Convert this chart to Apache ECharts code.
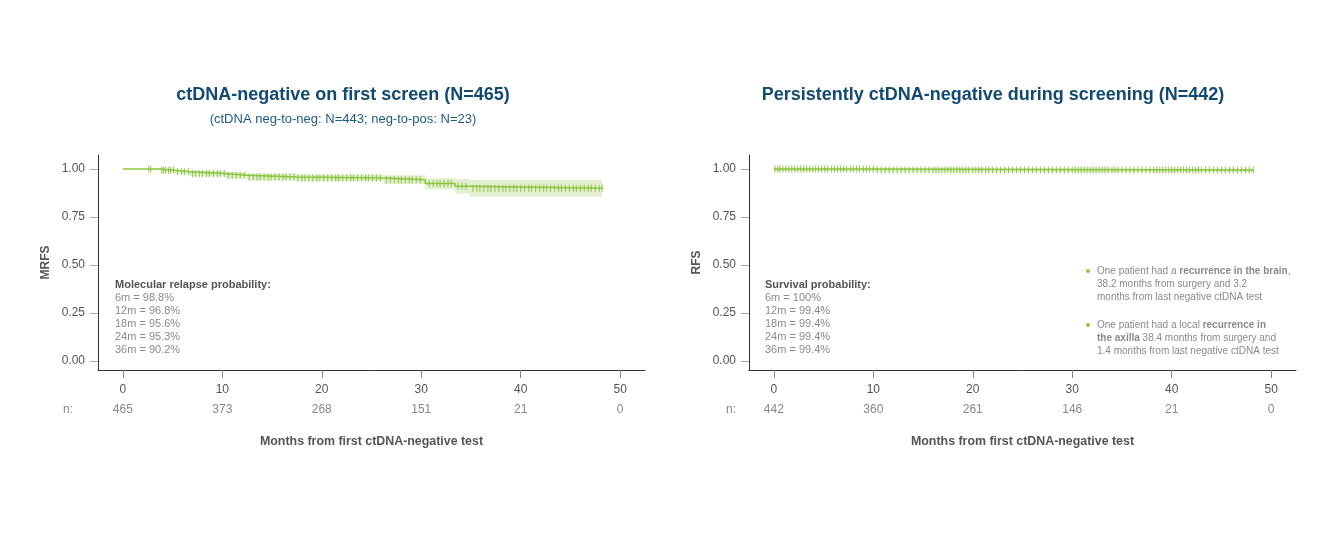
<!DOCTYPE html>
<html>
<head>
<meta charset="utf-8">
<script src="https://cdn.jsdelivr.net/npm/echarts@6/dist/echarts.min.js"></script>
<style>
  html, body { margin: 0; padding: 0; background: #fff; }
  #chart { width: 1335px; height: 547px; }
</style>
</head>
<body>
<div id="chart"></div>
<script>
// x ticks + numbers at risk
const xTicks = [0, 10, 20, 30, 40, 50];
const yTicks = [0, 0.25, 0.5, 0.75, 1];
const nAtRiskLeft = [465, 373, 268, 151, 21, 0];
const nAtRiskRight = [442, 360, 261, 146, 21, 0];

// left KM step curve (ctDNA-negative on first screen)
const kmTimesLeft = [0, 3.8, 5.2, 6.7, 10.3, 12.4, 17.5, 26.2, 30.4, 33.4, 34.9, 48.2];
const kmSurvLeft  = [1.0, 0.994, 0.986, 0.976, 0.967, 0.958, 0.953, 0.944, 0.924, 0.910, 0.900, 0.900];
const kmLowLeft   = [1.0, 0.985, 0.976, 0.962, 0.951, 0.940, 0.936, 0.922, 0.894, 0.872, 0.855, 0.855];
const kmHighLeft  = [1.0, 1.0, 0.996, 0.990, 0.983, 0.976, 0.972, 0.967, 0.952, 0.948, 0.943, 0.943];
const censorLeft = [2.6, 2.8, 3.9, 4.1, 4.3, 4.6, 4.8, 5.1, 5.5, 5.9, 6.2, 6.6, 7.0, 7.3, 7.7, 8.0, 8.4, 8.7, 9.1, 9.5,
  9.8, 10.2, 10.6, 11.0, 11.4, 11.8, 12.2, 12.7, 13.1, 13.5, 13.8, 14.2, 14.6, 14.9, 15.3, 15.7, 16.1, 16.4, 16.8,
  17.2, 17.6, 18.0, 18.3, 18.7, 19.1, 19.5, 19.8, 20.2, 20.6, 21.0, 21.4, 21.7, 22.1, 22.5, 22.9, 23.2, 23.6, 24.0,
  24.4, 24.7, 25.1, 25.5, 25.9, 26.5, 26.9, 27.3, 27.7, 28.0, 28.4, 28.8, 29.1, 29.5, 29.9, 30.8, 31.2, 31.6, 31.9,
  32.3, 32.7, 33.0, 33.7, 34.1, 34.5, 35.2, 35.6, 35.9, 36.3, 36.7, 37.0, 37.4, 37.8, 38.2, 38.5, 38.9, 39.3, 39.6,
  40.0, 40.4, 40.8, 41.1, 41.5, 41.9, 42.3, 42.6, 43.0, 43.4, 43.8, 44.1, 44.5, 44.9, 45.3, 45.6, 46.0, 46.4, 46.8,
  47.1, 47.5, 47.9, 48.2];

// right KM curve (persistently ctDNA-negative)
const kmTimesRight = [0, 10.2, 48.3];
const kmSurvRight  = [1.0, 0.995, 0.995];
const kmLowRight   = [0.99, 0.985, 0.985];
const kmHighRight  = [1.0, 1.0, 1.0];
const censorRight = [0.1, 0.4, 0.6, 0.9, 1.2, 1.5, 1.8, 2.1, 2.4, 2.7, 3.0, 3.3, 3.6, 3.9, 4.2, 4.5, 4.8, 5.1, 5.4,
  5.8, 6.1, 6.4, 6.7, 7.0, 7.3, 7.7, 8.0, 8.3, 8.6, 9.0, 9.3, 9.6, 10.0, 10.4, 10.8, 11.2, 11.6, 12.0, 12.4, 12.8,
  13.2, 13.6, 14.0, 14.4, 14.8, 15.2, 15.6, 16.0, 16.3, 16.6, 16.9, 17.2, 17.5, 17.8, 18.1, 18.4, 18.7, 19.0, 19.3,
  19.6, 20.0, 20.3, 20.6, 20.9, 21.3, 21.6, 22.0, 22.4, 22.8, 23.2, 23.6, 24.0, 24.4, 24.8, 25.2, 25.6, 26.0, 26.4,
  26.8, 27.2, 27.6, 28.0, 28.4, 28.8, 29.2, 29.6, 30.0, 30.3, 30.6, 30.9, 31.2, 31.5, 31.8, 32.1, 32.4, 32.7, 33.0,
  33.3, 33.6, 34.0, 34.3, 34.6, 35.0, 35.4, 35.8, 36.2, 36.6, 37.0, 37.4, 37.8, 38.2, 38.5, 38.8, 39.1, 39.4, 39.7,
  40.0, 40.3, 40.6, 40.9, 41.2, 41.5, 41.8, 42.1, 42.4, 42.7, 43.0, 43.4, 43.8, 44.2, 44.6, 45.0, 45.4, 45.8, 46.2,
  46.6, 47.0, 47.4, 47.8, 48.2];

const probLeft = ['6m = 98.8%', '12m = 96.8%', '18m = 95.6%', '24m = 95.3%', '36m = 90.2%'];
const probRight = ['6m = 100%', '12m = 99.4%', '18m = 99.4%', '24m = 99.4%', '36m = 99.4%'];

const FONT = "'Liberation Sans', Arial, sans-serif";
const GREEN = '#8cc63f';
const BAND = '#e3f0d0';
const BLUE = '#124a73';

function survAt(times, surv, t) {
  let s = surv[0];
  for (let i = 0; i < times.length; i++) if (times[i] <= t) s = surv[i];
  return s;
}

function kmSeries(idx, times, surv, low, high, censor) {
  const band = [];
  for (let i = 0; i < times.length - 1; i++) band.push([times[i], times[i + 1], low[i], high[i]]);
  return [
    {
      type: 'custom', xAxisIndex: idx * 2, yAxisIndex: idx, data: band, silent: true, z: 1,
      encode: { x: [0, 1], y: [2, 3] },
      renderItem: function (params, api) {
        const p0 = api.coord([api.value(0), api.value(3)]);
        const p1 = api.coord([api.value(1), api.value(2)]);
        return { type: 'rect', shape: { x: p0[0], y: p0[1], width: p1[0] - p0[0], height: p1[1] - p0[1] }, style: { fill: BAND } };
      }
    },
    {
      type: 'line', xAxisIndex: idx * 2, yAxisIndex: idx, step: 'end', showSymbol: false, z: 2,
      data: times.map((t, i) => [t, surv[i]]),
      lineStyle: { color: GREEN, width: 1.5 }
    },
    {
      type: 'scatter', xAxisIndex: idx * 2, yAxisIndex: idx, symbol: 'rect', symbolSize: [1.2, 7], z: 3,
      data: censor.map(t => [t, survAt(times, surv, t)]),
      itemStyle: { color: '#86c13a' }
    }
  ];
}

function xAxes(idx, nAtRisk) {
  return [
    {
      gridIndex: idx, type: 'value', min: -2.5, max: 52.5, position: 'bottom',
      axisLine: { onZero: false, lineStyle: { color: '#333', width: 1 } },
      axisTick: { customValues: xTicks, length: 8, lineStyle: { color: '#888' } },
      axisLabel: { customValues: xTicks, margin: 14, color: '#555', fontSize: 12, fontFamily: FONT },
      splitLine: { show: false }
    },
    {
      gridIndex: idx, type: 'value', min: -2.5, max: 52.5, position: 'bottom',
      axisLine: { show: false, onZero: false }, axisTick: { show: false }, splitLine: { show: false },
      axisLabel: {
        customValues: xTicks, margin: 34, color: '#888', fontSize: 12, fontFamily: FONT,
        formatter: v => String(nAtRisk[xTicks.indexOf(v)])
      },
      name: 'Months from first ctDNA-negative test', nameLocation: 'middle', nameGap: 66,
      nameTextStyle: { color: '#555', fontSize: 12.4, fontWeight: 'bold', fontFamily: FONT }
    }
  ];
}

function yAxis(idx, name) {
  return {
    gridIndex: idx, type: 'value', min: -0.047, max: 1.073,
    axisLine: { show: true, onZero: false, lineStyle: { color: '#333', width: 1 } },
    axisTick: { show: true, customValues: yTicks, length: 8, lineStyle: { color: '#aaa' } },
    axisLabel: { customValues: yTicks, margin: 13, color: '#555', fontSize: 12, fontFamily: FONT, formatter: v => v.toFixed(2) },
    splitLine: { show: false },
    name: name, nameLocation: 'middle', nameGap: 46,
    nameTextStyle: { color: '#555', fontSize: 12, fontWeight: 'bold', fontFamily: FONT }
  };
}

function txt(x, y, text, opts) {
  return {
    type: 'text', x: x, y: y, silent: true,
    style: Object.assign({ text: text, fontFamily: FONT, fontSize: 11, fill: '#8a8a8a', textVerticalAlign: 'middle', verticalAlign: 'middle' }, opts || {})
  };
}

function probBlock(x, header, lines) {
  const els = [txt(x, 285, header, { fill: '#555', fontWeight: 'bold' })];
  lines.forEach((l, i) => els.push(txt(x, 298 + i * 13, l)));
  return els;
}

const rich = {
  n: { fontFamily: FONT, fontSize: 10, color: '#8a8a8a' },
  b: { fontFamily: FONT, fontSize: 10, color: '#555', fontWeight: 'bold' }
};

const graphics = [
  txt(343, 95, 'ctDNA-negative on first screen (N=465)', { fontSize: 18, fontWeight: 'bold', fill: BLUE, textAlign: 'center', align: 'center' }),
  txt(343, 119, '(ctDNA neg-to-neg: N=443; neg-to-pos: N=23)', { fontSize: 13, fill: '#1f5a85', textAlign: 'center', align: 'center' }),
  txt(993, 95, 'Persistently ctDNA-negative during screening (N=442)', { fontSize: 18, fontWeight: 'bold', fill: BLUE, textAlign: 'center', align: 'center' }),
  txt(68, 410, 'n:', { fontSize: 12, fill: '#888', textAlign: 'center', align: 'center' }),
  txt(731, 410, 'n:', { fontSize: 12, fill: '#888', textAlign: 'center', align: 'center' }),
  { type: 'circle', shape: { cx: 1088, cy: 271, r: 2 }, style: { fill: GREEN }, silent: true },
  { type: 'circle', shape: { cx: 1088, cy: 325, r: 2 }, style: { fill: GREEN }, silent: true },
  txt(1097, 271, '{n|One patient had a }{b|recurrence in the brain}{n|,}', { rich: rich, fontSize: 10 }),
  txt(1097, 284, '38.2 months from surgery and 3.2', { fontSize: 10 }),
  txt(1097, 297, 'months from last negative ctDNA test', { fontSize: 10 }),
  txt(1097, 325, '{n|One patient had a local }{b|recurrence in}', { rich: rich, fontSize: 10 }),
  txt(1097, 338, '{b|the axilla}{n| 38.4 months from surgery and}', { rich: rich, fontSize: 10 }),
  txt(1097, 351, '1.4 months from last negative ctDNA test', { fontSize: 10 })
].concat(probBlock(115, 'Molecular relapse probability:', probLeft))
 .concat(probBlock(765, 'Survival probability:', probRight));

const chart = echarts.init(document.getElementById('chart'));
chart.setOption({
  animation: false,
  backgroundColor: '#fff',
  textStyle: { fontFamily: FONT },
  grid: [
    { left: 98, top: 155, width: 547, height: 215 },
    { left: 749, top: 155, width: 547, height: 215 }
  ],
  xAxis: xAxes(0, nAtRiskLeft).concat(xAxes(1, nAtRiskRight)),
  yAxis: [yAxis(0, 'MRFS'), yAxis(1, 'RFS')],
  series: kmSeries(0, kmTimesLeft, kmSurvLeft, kmLowLeft, kmHighLeft, censorLeft)
    .concat(kmSeries(1, kmTimesRight, kmSurvRight, kmLowRight, kmHighRight, censorRight)),
  graphic: graphics
});
</script>
</body>
</html>
